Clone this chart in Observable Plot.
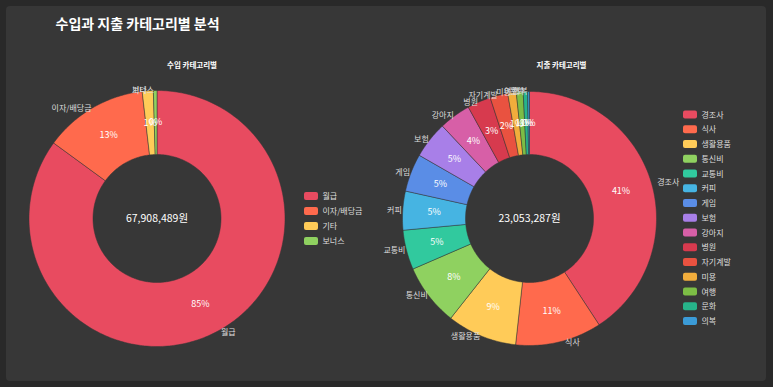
<!DOCTYPE html>
<html>
<head>
<meta charset="utf-8">
<script src="https://cdn.jsdelivr.net/npm/d3@7"></script>
<script src="https://cdn.jsdelivr.net/npm/@observablehq/plot@0.6"></script>
<style>
  html, body { margin: 0; padding: 0; background: #292929; }
  #wrap { position: relative; width: 773px; height: 387px; overflow: hidden; }
  #card { position: absolute; left: 6px; top: 6px; width: 760px; height: 375px; background: #373737; border-radius: 4px; }
  #chart { position: absolute; left: 0; top: 0; }
</style>
</head>
<body>
<div id="wrap"><div id="card"></div><div id="chart"></div></div>
<script>
// ---- data ----
const chartTitle = "수입과 지출 카테고리별 분석";
const incomeTitle = "수입 카테고리별";
const expenseTitle = "지출 카테고리별";

const incomeCategories = ["월급", "이자/배당금", "기타", "보너스"];
const incomeValues = [57750000, 8900000, 950000, 308489];
const incomeColors = ["#e84b60", "#ff6a4d", "#ffcb58", "#8fd160"];

const expenseCategories = ["경조사", "식사", "생활용품", "통신비", "교통비", "커피", "게임", "보험", "강아지", "병원", "자기계발", "미용", "여행", "문화", "의복"];
const expenseValues = [9400000, 2530000, 2050000, 1810000, 1160000, 1140000, 1110000, 1080000, 930000, 690000, 520000, 250000, 200000, 130000, 53287];
const expenseColors = ["#e84b60", "#ff6a4d", "#ffcb58", "#8fd160", "#31c99e", "#46b4e2", "#5a8de6", "#a87fe8", "#d75fa7", "#d73a4e", "#e95240", "#f1ad3c", "#7cbd45", "#27b38a", "#3b9bd7"];

// ---- layout ----
const W = 773, H = 387;
const donuts = [
  {id: "in", cats: incomeCategories, vals: incomeValues, cx: 156.5, cy: 218, r0: 64, r1: 128, titleX: 191.5, legendX: 304, legendY0: 196, legendStep: 15},
  {id: "ex", cats: expenseCategories, vals: expenseValues, cx: 529, cy: 218, r0: 64, r1: 127, titleX: 561, legendX: 683, legendY0: 114.5, legendStep: 14.75}
];

const polys = [], pcts = [], outs = [], legend = [], centers = [], titles = [];
for (const d of donuts) {
  const total = d3.sum(d.vals);
  let cum = 0;
  d.cats.forEach((c, i) => {
    const a0 = cum / total * 2 * Math.PI;
    cum += d.vals[i];
    const a1 = cum / total * 2 * Math.PI;
    const n = Math.max(2, Math.ceil((a1 - a0) / (Math.PI / 180)) + 1);
    const pts = [];
    for (let k = 0; k < n; k++) pts.push([a0 + (a1 - a0) * k / (n - 1), d.r1]);
    for (let k = n - 1; k >= 0; k--) pts.push([a0 + (a1 - a0) * k / (n - 1), d.r0]);
    pts.push(pts[0]);
    for (const [a, r] of pts) polys.push({key: d.id + i, cat: c, x: d.cx + r * Math.sin(a), y: d.cy - r * Math.cos(a)});
    const am = (a0 + a1) / 2, rm = (d.r0 + d.r1) / 2;
    pcts.push({x: d.cx + rm * Math.sin(am), y: d.cy - rm * Math.cos(am), text: Math.round(d.vals[i] / total * 100) + "%"});
    outs.push({x: d.cx + d.r1 * Math.sin(am), y: d.cy - d.r1 * Math.cos(am), text: c, right: Math.sin(am) >= 0});
    legend.push({cat: c, x: d.legendX, y: d.legendY0 + i * d.legendStep});
  });
  centers.push({x: d.cx, y: d.cy, text: d3.format(",")(total) + "원"});
}
titles.push({x: donuts[0].titleX, y: 65, text: incomeTitle}, {x: donuts[1].titleX, y: 65, text: expenseTitle});

const chart = Plot.plot({
  width: W, height: H,
  margin: 0,
  x: {domain: [0, W], range: [0, W], axis: null},
  y: {domain: [0, H], range: [0, H], axis: null},
  color: {domain: [...incomeCategories, ...expenseCategories], range: [...incomeColors, ...expenseColors]},
  style: {background: "transparent", fontFamily: '"Noto Sans CJK KR", "Noto Sans", sans-serif', color: "#ddd"},
  marks: [
    Plot.line(polys, {x: "x", y: "y", z: "key", fill: "cat", stroke: "#373737", strokeWidth: 0.5, curve: "linear"}),
    Plot.text(pcts, {x: "x", y: "y", text: "text", fill: "#fff", fontSize: 9}),
    Plot.text(outs.filter(d => d.right), {x: "x", y: "y", text: "text", fill: "#ddd", fontSize: 8, textAnchor: "start", dx: 6}),
    Plot.text(outs.filter(d => !d.right), {x: "x", y: "y", text: "text", fill: "#ddd", fontSize: 8, textAnchor: "end", dx: -1}),
    Plot.text(centers, {x: "x", y: "y", text: "text", fill: "#fff", fontSize: 10.5}),
    Plot.text(titles, {x: "x", y: "y", text: "text", fill: "#fff", fontSize: 7.5, fontWeight: "bold"}),
    Plot.text([chartTitle], {x: 55, y: 24, text: d => d, fill: "#fff", fontSize: 14, fontWeight: 600, textAnchor: "start"}),
    Plot.rect(legend, {x1: "x", x2: d => d.x + 14, y1: d => d.y - 4, y2: d => d.y + 4, fill: "cat", rx: 2}),
    Plot.text(legend, {x: d => d.x + 18, y: "y", text: "cat", fill: "#ddd", fontSize: 8, textAnchor: "start"})
  ]
});
document.getElementById("chart").appendChild(chart);
</script>
</body>
</html>
